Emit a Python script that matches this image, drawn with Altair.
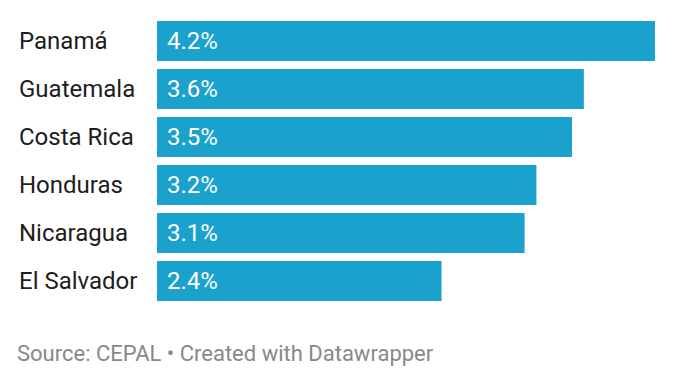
import altair as alt
import pandas as pd

countries = ["Panamá", "Guatemala", "Costa Rica", "Honduras", "Nicaragua", "El Salvador"]
values = [4.2, 3.6, 3.5, 3.2, 3.1, 2.4]
labels = ["4.2%", "3.6%", "3.5%", "3.2%", "3.1%", "2.4%"]
footer = "Source: CEPAL • Created with Datawrapper"

df = pd.DataFrame({"country": countries, "value": values, "label": labels})

y = alt.Y("country:N", sort=countries, axis=None,
          scale=alt.Scale(paddingInner=1/6, paddingOuter=1/12))
x = alt.X("value:Q", axis=None, scale=alt.Scale(domain=[0, 4.2], nice=False, zero=True))

base = alt.Chart(df)

bars = base.mark_bar(color="#1aa1cc").encode(x=x, y=y)

values_txt = base.mark_text(align="left", baseline="middle", font="Roboto",
                            fontSize=24, color="white", dy=1).encode(
    x=alt.value(10), y=y, text="label:N")

names = base.mark_text(align="left", baseline="middle", font="Roboto",
                       fontSize=24, color="#1d1d1d", dy=1).encode(
    x=alt.value(-138), y=y, text="country:N")

foot = alt.Chart(pd.DataFrame({"t": [footer]})).mark_text(
    align="left", baseline="alphabetic", font="Roboto", fontSize=22, color="#888888").encode(
    x=alt.value(-140), y=alt.value(344), text="t:N")

chart = alt.layer(bars, values_txt, names, foot).properties(
    width=498, height=288,
    autosize=alt.AutoSizeParams(type="none"),
    padding={"left": 149, "top": 9, "right": 12, "bottom": 69},
).configure_view(stroke=None)

chart.save("out.html", embed_options={"renderer": "svg", "actions": False})
